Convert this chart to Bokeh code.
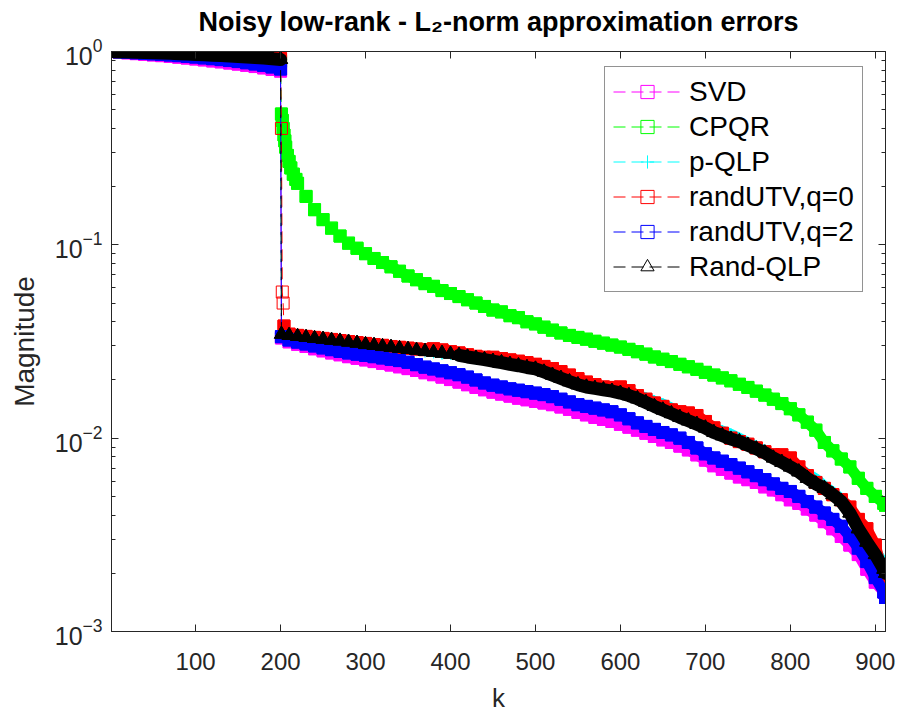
from bokeh.plotting import figure
from bokeh.models import (Range1d, FixedTicker, LinearAxis, LogAxis, Legend, LegendItem,
                          CustomJSTickFormatter, ColumnDataSource, CDSView, IndexFilter)
from bokeh.embed import file_html
from bokeh.resources import INLINE

TITLE = "Noisy low-rank - L\u2082-norm approximation errors"
X_LABEL = "k"
Y_LABEL = "Magnitude"
X_TICKS = [100, 200, 300, 400, 500, 600, 700, 800, 900]
Y_TICKS = [1e-3, 1e-2, 1e-1, 1]

# k positions (x data)
K_TOP = [1, 10, 20, 30, 40, 50, 60, 70, 80, 90, 100, 110, 120, 130, 140, 150, 160, 170, 180, 190, 200]
K_TAIL = list(range(210, 911, 10)) + [912]

# ---------------- SVD ----------------
svd_k = K_TOP + [201] + K_TAIL
svd_v = [1.000, 0.992, 0.984, 0.975, 0.967, 0.960, 0.952, 0.944, 0.935, 0.925, 0.915,
         0.905, 0.894, 0.884, 0.872, 0.861, 0.849, 0.836, 0.823, 0.808, 0.792,
         0.0330,
         0.0315, 0.0306, 0.0298, 0.0290, 0.0283, 0.0276, 0.0270, 0.0264, 0.0259, 0.0254,
         0.0249, 0.0244, 0.0239, 0.0234, 0.0229, 0.0224, 0.0218, 0.0213, 0.0207, 0.0201,
         0.0195, 0.0189, 0.0183, 0.0178, 0.0173, 0.0169, 0.0165, 0.0161, 0.0158, 0.0155,
         0.0152, 0.0149, 0.0145, 0.0141, 0.0136, 0.0132, 0.0128, 0.0125, 0.0122, 0.0118,
         0.0114, 0.0110, 0.0106, 0.0102, 0.0098, 0.0095, 0.0091, 0.0087, 0.0082, 0.0077,
         0.0072, 0.0069, 0.0066, 0.0063, 0.0061, 0.0059, 0.0056, 0.0054, 0.0051, 0.0048,
         0.0046, 0.0043, 0.0040, 0.0037, 0.0034, 0.0031, 0.0028, 0.0025, 0.0021, 0.0018,
         0.0016, 0.0015]

# ---------------- CPQR ----------------
cpqr_k = K_TOP + [201, 202, 203, 204, 205, 206, 208, 210, 212, 215, 218] + K_TAIL[1:]
cpqr_v = [1.000, 0.996, 0.992, 0.988, 0.984, 0.980, 0.976, 0.971, 0.966, 0.961, 0.956,
          0.950, 0.944, 0.938, 0.932, 0.926, 0.919, 0.912, 0.905, 0.898, 0.890,
          0.475, 0.440, 0.400, 0.370, 0.345, 0.320, 0.290, 0.270, 0.250, 0.232, 0.218,
          0.208, 0.178, 0.152, 0.135, 0.122, 0.111, 0.102, 0.096, 0.090,
          0.085, 0.081, 0.077, 0.073, 0.069, 0.066, 0.063, 0.061, 0.058, 0.056,
          0.054, 0.052, 0.050, 0.048, 0.046, 0.045, 0.043, 0.042, 0.040, 0.039,
          0.0375, 0.0362, 0.0350, 0.0340, 0.0332, 0.0325, 0.0317, 0.0310, 0.0303, 0.0296,
          0.0288, 0.0280, 0.0272, 0.0263, 0.0256, 0.0249, 0.0241, 0.0234, 0.0227, 0.0219,
          0.0212, 0.0205, 0.0198, 0.0190, 0.0183, 0.0175, 0.0167, 0.0159, 0.0151, 0.0142,
          0.0132, 0.0121, 0.0110, 0.0095, 0.0086, 0.0078, 0.0071, 0.0062, 0.0055, 0.0050,
          0.0046, 0.0045]

# ---------------- p-QLP ----------------
pqlp_k = K_TOP + [201] + K_TAIL
pqlp_v = [1.000, 0.997, 0.994, 0.991, 0.987, 0.984, 0.980, 0.976, 0.972, 0.968, 0.964,
          0.960, 0.955, 0.950, 0.945, 0.940, 0.935, 0.929, 0.923, 0.917, 0.911,
          0.0348,
          0.0342, 0.0338, 0.0334, 0.0330, 0.0327, 0.0323, 0.0320, 0.0316, 0.0312, 0.0308,
          0.0305, 0.0301, 0.0298, 0.0294, 0.0291, 0.0287, 0.0283, 0.0280, 0.0276, 0.0274,
          0.0271, 0.0266, 0.0260, 0.0256, 0.0252, 0.0248, 0.0244, 0.0240, 0.0236, 0.0232,
          0.0226, 0.0218, 0.0210, 0.0202, 0.0195, 0.0190, 0.0186, 0.0183, 0.0180, 0.0176,
          0.0171, 0.0166, 0.0160, 0.0154, 0.0149, 0.0142, 0.0135, 0.0128, 0.0122, 0.0117,
          0.0112, 0.0108, 0.0104, 0.0099, 0.0094, 0.0090, 0.0085, 0.0081, 0.0077, 0.0073,
          0.0069, 0.0065, 0.0061, 0.0056, 0.0052, 0.0048, 0.0043, 0.0037, 0.0031, 0.0026,
          0.0022, 0.0021]

# ---------------- randUTV, q=0 ----------------
rq0_k = K_TOP + [201, 202, 203, 204] + K_TAIL
rq0_v = [1.000, 0.997, 0.994, 0.991, 0.988, 0.985, 0.981, 0.977, 0.973, 0.969, 0.965,
         0.961, 0.957, 0.953, 0.948, 0.944, 0.939, 0.934, 0.929, 0.924, 0.920,
         0.400, 0.057, 0.050, 0.038,
         0.0345, 0.0340, 0.0336, 0.0332, 0.0328, 0.0324, 0.0320, 0.0316, 0.0312, 0.0309,
         0.0305, 0.0302, 0.0298, 0.0295, 0.0292, 0.0289, 0.0287, 0.0290, 0.0286, 0.0280,
         0.0276, 0.0270, 0.0265, 0.0262, 0.0262, 0.0258, 0.0254, 0.0250, 0.0246, 0.0241,
         0.0235, 0.0229, 0.0221, 0.0212, 0.0203, 0.0195, 0.0189, 0.0184, 0.0183, 0.0184,
         0.0176, 0.0166, 0.0159, 0.0152, 0.0146, 0.0140, 0.0137, 0.0135, 0.0131, 0.0122,
         0.0113, 0.0106, 0.0100, 0.0096, 0.0093, 0.0089, 0.0085, 0.0082, 0.0082, 0.0079,
         0.0071, 0.0064, 0.0059, 0.0055, 0.0051, 0.0048, 0.0044, 0.0038, 0.0034, 0.0028,
         0.0019, 0.0018]

# ---------------- randUTV, q=2 ----------------
rq2_k = K_TOP + [201] + K_TAIL
rq2_v = [1.000, 0.995, 0.990, 0.984, 0.978, 0.972, 0.966, 0.959, 0.952, 0.944, 0.936,
         0.927, 0.918, 0.908, 0.898, 0.887, 0.875, 0.862, 0.848, 0.832, 0.812,
         0.0335,
         0.0322, 0.0314, 0.0307, 0.0300, 0.0293, 0.0287, 0.0281, 0.0276, 0.0272, 0.0268,
         0.0264, 0.0260, 0.0256, 0.0252, 0.0247, 0.0240, 0.0233, 0.0228, 0.0223, 0.0218,
         0.0213, 0.0207, 0.0200, 0.0193, 0.0188, 0.0184, 0.0180, 0.0177, 0.0174, 0.0171,
         0.0168, 0.0164, 0.0159, 0.0154, 0.0149, 0.0146, 0.0143, 0.0140, 0.0137, 0.0132,
         0.0126, 0.0120, 0.0115, 0.0111, 0.0107, 0.0104, 0.0100, 0.0095, 0.0089, 0.0083,
         0.0079, 0.0076, 0.0073, 0.0070, 0.0067, 0.0064, 0.0061, 0.0058, 0.0055, 0.0053,
         0.0050, 0.0047, 0.0044, 0.0041, 0.0038, 0.0035, 0.0031, 0.0027, 0.0023, 0.0019,
         0.0016, 0.0015]

# ---------------- Rand-QLP ----------------
rqlp_k = K_TOP + [201] + K_TAIL
rqlp_v = [1.000, 0.998, 0.995, 0.992, 0.989, 0.985, 0.982, 0.978, 0.974, 0.970, 0.966,
          0.962, 0.957, 0.952, 0.947, 0.942, 0.937, 0.931, 0.925, 0.918, 0.910,
          0.0345,
          0.0340, 0.0336, 0.0332, 0.0328, 0.0325, 0.0321, 0.0318, 0.0314, 0.0310, 0.0305,
          0.0302, 0.0298, 0.0295, 0.0291, 0.0288, 0.0285, 0.0281, 0.0278, 0.0275, 0.0272,
          0.0268, 0.0263, 0.0259, 0.0255, 0.0250, 0.0246, 0.0241, 0.0237, 0.0232, 0.0228,
          0.0220, 0.0212, 0.0204, 0.0196, 0.0189, 0.0184, 0.0181, 0.0178, 0.0175, 0.0171,
          0.0166, 0.0160, 0.0153, 0.0146, 0.0140, 0.0134, 0.0128, 0.0123, 0.0118, 0.0113,
          0.0107, 0.0103, 0.0099, 0.0096, 0.0092, 0.0088, 0.0084, 0.0079, 0.0075, 0.0071,
          0.0067, 0.0062, 0.0058, 0.0055, 0.0051, 0.0047, 0.0041, 0.0034, 0.0029, 0.0025,
          0.0021, 0.0020]

# name, k, values, colour, marker, marker size, first k of the lower branch,
# k values drawn as lone (open) markers
SERIES = [
    ("SVD", svd_k, svd_v, "#ff00ff", "square", 12, 201, []),
    ("CPQR", cpqr_k, cpqr_v, "#00ff00", "square", 12, 201, []),
    ("p-QLP", pqlp_k, pqlp_v, "#00ffff", "cross", 13, 201, []),
    ("randUTV,q=0", rq0_k, rq0_v, "#ff0000", "square", 12, 204, [201, 202, 203]),
    ("randUTV,q=2", rq2_k, rq2_v, "#0000ff", "square", 12, 201, []),
    ("Rand-QLP", rqlp_k, rqlp_v, "#000000", "triangle", 14, 201, []),
]
for s in SERIES:
    assert len(s[1]) == len(s[2]), (s[0], len(s[1]), len(s[2]))

AX = "#262626"
FONT = "Liberation Sans"

p = figure(width=901, height=715, x_range=Range1d(1, 912), y_range=Range1d(1e-3, 1),
           y_axis_type="log", output_backend="svg", toolbar_location=None, title=None,
           min_border_left=111, min_border_right=16, min_border_top=51, min_border_bottom=84)
p.xgrid.visible = False
p.ygrid.visible = False
p.outline_line_color = AX
p.outline_line_width = 1

minor_y = [m * 10.0 ** e for e in (-3, -2, -1) for m in range(2, 10)]

xa = p.xaxis[0]
xa.ticker = FixedTicker(ticks=X_TICKS)
ya = p.yaxis[0]
ya.ticker = FixedTicker(ticks=Y_TICKS, minor_ticks=minor_y)

for ax in (xa, ya):
    ax.axis_line_color = AX
    ax.major_tick_line_color = AX
    ax.minor_tick_line_color = AX
    ax.major_tick_in = 7
    ax.major_tick_out = 0
    ax.minor_tick_in = 4
    ax.minor_tick_out = 0
    ax.major_label_text_font = FONT
    ax.major_label_text_color = AX
    ax.axis_label_text_font = FONT
    ax.axis_label_text_font_style = "normal"
    ax.axis_label_text_color = AX

xa.major_label_text_font_size = "24px"
ya.major_label_text_font_size = "25px"
xa.axis_label = X_LABEL
xa.axis_label_text_font_size = "26px"
xa.major_label_standoff = 21
xa.axis_label_standoff = 10
ya.axis_label = Y_LABEL
ya.axis_label_text_font_size = "28px"
ya.major_label_standoff = 9
ya.axis_label_standoff = 12

# top axis: inward ticks of the box, and the chart title as its label
top = LinearAxis(ticker=FixedTicker(ticks=X_TICKS), formatter=CustomJSTickFormatter(code="return ''"),
                 axis_line_color=AX, major_tick_line_color=AX, major_tick_in=7, major_tick_out=0,
                 minor_tick_line_color=None, major_label_standoff=0, major_label_text_font_size="1px",
                 axis_label=TITLE, axis_label_text_font=FONT, axis_label_text_font_size="27px",
                 axis_label_text_font_style="bold", axis_label_text_color="black",
                 axis_label_standoff=15)
p.add_layout(top, "above")
right = LogAxis(ticker=FixedTicker(ticks=Y_TICKS, minor_ticks=minor_y),
                formatter=CustomJSTickFormatter(code="return ''"),
                axis_line_color=AX, major_tick_line_color=AX, minor_tick_line_color=AX,
                major_tick_in=7, major_tick_out=0, minor_tick_in=4, minor_tick_out=0,
                major_label_standoff=0, major_label_text_font_size="1px")
p.add_layout(right, "right")

items = []
for name, ks, vs, color, marker, size, low_start, lone in SERIES:
    src = ColumnDataSource(dict(k=ks, v=vs))
    n = len(ks)
    i_low = ks.index(low_start)
    upper = [i for i in range(n) if ks[i] <= 200]
    lower = list(range(i_low, n))
    lone_idx = [ks.index(k) for k in lone]
    dense = [i for i in range(n) if i not in lone_idx]
    # markers drawn at every k in the original merge into a solid band
    for idx in (upper, lower):
        p.line("k", "v", source=src, view=CDSView(filter=IndexFilter(idx)), line_color=color,
               line_width=size - 1, line_join="round", line_cap="round")
    lr = p.line("k", "v", source=src, line_color=color, line_width=1, line_dash="12 6")
    p.scatter("k", "v", source=src, view=CDSView(filter=IndexFilter(dense)), marker=marker,
              size=size, line_color=color, fill_color=color, line_width=1)
    hr = p.scatter("k", "v", source=src, marker=marker, size=size, line_color=color,
                   fill_color=None, line_width=1)
    items.append(LegendItem(label=name, renderers=[lr, hr]))

legend = Legend(items=items, location=(493, 339), label_text_font=FONT, label_text_font_size="28px",
                label_text_color="black", glyph_width=68, glyph_height=33, label_height=33,
                label_standoff=8, padding=8, spacing=2, margin=0,
                border_line_color=AX, border_line_width=1,
                background_fill_color="white", background_fill_alpha=1)
p.add_layout(legend, "center")

open("out.html", "w").write(file_html(p, INLINE))
